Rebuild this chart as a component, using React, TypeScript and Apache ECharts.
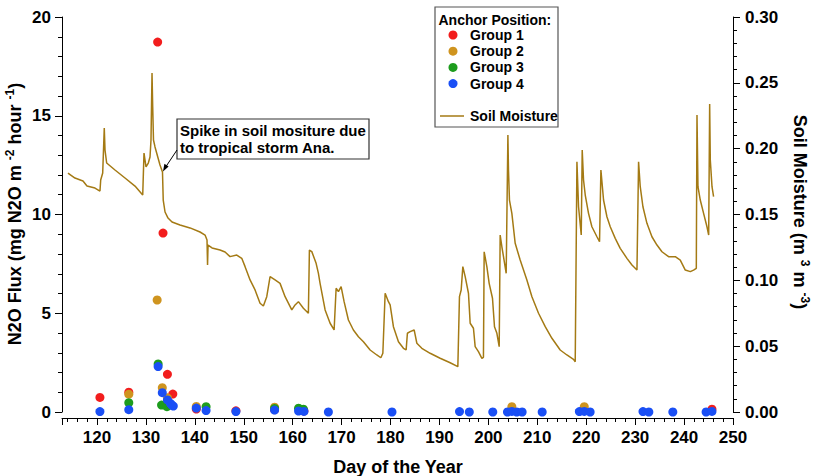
import { useEffect, useRef } from "react";
import * as echarts from "echarts";

// Soil moisture (m3 m-3) by day of year: [day, value]
const soilMoisture: [number, number][] = [
  [114.07, 0.1815], [115.5, 0.1777], [117.14, 0.1754], [117.96, 0.1716], [119.59, 0.1701],
  [120.61, 0.1678], [120.76, 0.1762], [121.17, 0.1815], [121.49, 0.2157], [121.64, 0.199],
  [121.98, 0.1891], [123.68, 0.1838], [125.73, 0.1777], [127.77, 0.1716], [129.35, 0.1648],
  [129.61, 0.1967], [130.02, 0.1861], [130.49, 0.1891], [130.84, 0.1937], [131.04, 0.2066],
  [131.25, 0.2575], [131.39, 0.2316], [131.55, 0.2066], [131.86, 0.2013], [132.88, 0.1876],
  [133.39, 0.1823], [133.54, 0.161], [133.91, 0.1519], [134.52, 0.1473], [135.34, 0.1443],
  [136.97, 0.142], [139.02, 0.1398], [141.06, 0.1367], [142.09, 0.1344], [142.49, 0.1306],
  [142.6, 0.1116], [142.7, 0.1268], [143.52, 0.1246], [145.15, 0.123], [146.18, 0.1215],
  [147.2, 0.118], [148.57, 0.1192], [149.59, 0.1167], [150.27, 0.1104], [151.29, 0.1003],
  [152.31, 0.0927], [153.33, 0.0826], [154.01, 0.0805], [154.7, 0.0876], [155.38, 0.1028],
  [156.4, 0.1003], [157.42, 0.0977], [158.45, 0.0876], [159.82, 0.0775], [160.49, 0.0813],
  [161.17, 0.0838], [162.19, 0.0788], [163.21, 0.075], [163.42, 0.123], [163.91, 0.1218],
  [164.79, 0.1129], [165.26, 0.1053], [165.6, 0.0977], [166.63, 0.0775], [167.65, 0.0674],
  [168.47, 0.0623], [168.88, 0.094], [169.35, 0.0914], [169.9, 0.0952], [170.51, 0.0838],
  [171.39, 0.0699], [172.41, 0.0623], [173.44, 0.0572], [174.46, 0.0534], [175.83, 0.0471],
  [177.2, 0.0433], [178.02, 0.0412], [178.43, 0.0446], [178.9, 0.0902], [179.57, 0.0838],
  [179.92, 0.0813], [180.59, 0.0648], [181.62, 0.0534], [182.64, 0.0484], [183.19, 0.0471],
  [183.45, 0.0598], [184.01, 0.061], [184.83, 0.0623], [185.38, 0.0522], [186.4, 0.0484],
  [188.1, 0.0446], [190.14, 0.0408], [192.19, 0.0374], [193.76, 0.0344], [194.09, 0.0876],
  [194.44, 0.0927], [194.78, 0.1104], [195.26, 0.1028], [195.93, 0.0902], [196.28, 0.0674],
  [196.95, 0.0636], [197.3, 0.0496], [197.97, 0.0458], [198.67, 0.0408], [198.99, 0.0415],
  [199.14, 0.1217], [199.69, 0.1104], [200.16, 0.0977], [200.84, 0.0864], [201.25, 0.0648],
  [201.74, 0.0598], [202.21, 0.0496], [202.41, 0.1344], [202.76, 0.1255], [203.09, 0.118],
  [203.64, 0.1053], [203.99, 0.2104], [204.11, 0.1838], [204.31, 0.161], [204.8, 0.1509],
  [205.48, 0.1281], [206.5, 0.1154], [207.87, 0.1003], [208.9, 0.0876], [210.25, 0.075],
  [211.62, 0.0648], [212.99, 0.056], [214.68, 0.0471], [216.05, 0.0433], [217.4, 0.04],
  [217.75, 0.0382], [218.1, 0.1901], [218.43, 0.1559], [218.98, 0.1344], [219.18, 0.199],
  [219.45, 0.1762], [219.8, 0.1648], [220.47, 0.1509], [221.16, 0.1407], [222.19, 0.1331],
  [222.72, 0.1293], [223.0, 0.1838], [223.54, 0.161], [224.23, 0.1483], [224.91, 0.1407],
  [225.93, 0.1319], [226.95, 0.1243], [228.32, 0.1167], [229.35, 0.1116], [230.37, 0.1078],
  [230.7, 0.1901], [231.04, 0.1711], [231.59, 0.1559], [232.41, 0.1433], [233.43, 0.1331],
  [234.46, 0.1268], [235.48, 0.1217], [236.83, 0.118], [238.2, 0.118], [239.22, 0.1154],
  [240.25, 0.1078], [241.27, 0.1066], [241.94, 0.1078], [242.5, 0.1091], [242.64, 0.2256],
  [242.84, 0.1711], [243.31, 0.161], [243.99, 0.1509], [244.68, 0.1407], [245.03, 0.1344],
  [245.23, 0.2339], [245.36, 0.1914], [245.71, 0.1711], [246.03, 0.1635],
];

// N2O flux (mg N2O m-2 hour-1) by anchor position: [day, flux]
const group1: [number, number][] = [
  [120.6, 0.74], [126.5, 1.0], [132.4, 18.73], [133.5, 9.06], [134.4, 1.91], [135.5, 0.91],
  [140.3, 0.15], [148.4, 0.06], [156.3, 0.12], [162.3, 0.05], [245.7, 0.14],
];
const group2: [number, number][] = [
  [126.5, 0.9], [132.3, 5.67], [133.35, 1.23], [134.4, 0.72], [140.3, 0.28], [156.3, 0.24],
  [204.8, 0.27], [219.6, 0.27],
];
const group3: [number, number][] = [
  [126.5, 0.47], [132.5, 2.43], [133.2, 0.35], [134.3, 0.27], [142.3, 0.27], [156.3, 0.18],
  [161.2, 0.19], [162.2, 0.14],
];
const group4: [number, number][] = [
  [120.6, 0.02], [126.5, 0.12], [132.5, 2.3], [133.35, 0.98], [134.4, 0.61], [135.0, 0.44],
  [135.3, 0.35], [135.6, 0.3], [140.3, 0.2], [142.3, 0.07], [148.4, 0.02], [156.3, 0.1],
  [161.2, 0.05], [162.3, 0.03], [167.3, 0.0], [180.3, 0.0], [194.1, 0.02], [196.1, 0.0],
  [200.9, 0.0], [203.9, 0.0], [204.8, 0.03], [205.8, 0.0], [206.9, 0.0], [211.0, 0.0],
  [218.6, 0.02], [219.6, 0.03], [220.8, 0.0], [231.6, 0.02], [232.8, 0.0], [237.7, 0.0],
  [244.5, 0.0], [245.7, 0.03],
];

const groupNames = ["Group 1", "Group 2", "Group 3", "Group 4"];
const groupColors = ["#f21d1d", "#cf941f", "#1d9c1d", "#1a4ff5"];
const moistureColor = "#a47a14";

const FONT = '"Liberation Sans", Arial, Helvetica, sans-serif';

export default function App() {
  const ref = useRef<HTMLDivElement>(null);

  useEffect(() => {
    const chart = echarts.init(ref.current!, null, { renderer: "svg" });

    const tickLabel = {
      color: "#000",
      fontSize: 17,
      fontWeight: "bold" as const,
      fontFamily: FONT,
    };
    const axisLine = { show: true, onZero: false, lineStyle: { color: "#000", width: 1 } };
    const axisTick = { show: true, inside: false, length: 7, lineStyle: { color: "#000", width: 1 } };
    const minorTick = { show: true, splitNumber: 5, length: 4, lineStyle: { color: "#000", width: 1 } };

    const groupSeries = [group1, group2, group3, group4].map((data, i) => ({
      name: groupNames[i],
      type: "scatter",
      yAxisIndex: 0,
      data,
      symbol: "circle",
      symbolSize: 9,
      itemStyle: { color: groupColors[i], opacity: 1 },
      z: 3 + i,
    }));

    const legendRows = groupNames.flatMap((name, i) => [
      {
        type: "circle",
        shape: { cx: 453, cy: 35 + i * 16.2, r: 4.5 },
        style: { fill: groupColors[i] },
        z: 101,
      },
      {
        type: "text",
        x: 470,
        y: 35 + i * 16.2,
        style: {
          text: name,
          font: `bold 14px ${FONT}`,
          fill: "#000",
          align: "left",
          verticalAlign: "middle",
        },
        z: 101,
      },
    ]);

    chart.setOption({
      animation: false,
      backgroundColor: "#fff",
      grid: { left: 62, right: 91, top: 17, bottom: 64, containLabel: false, outerBoundsMode: "none" },
      xAxis: {
        type: "value",
        min: 112.85,
        max: 250,
        splitNumber: 14,
        offset: 6,
        axisLine,
        axisTick,
        minorTick,
        splitLine: { show: false },
        axisLabel: { ...tickLabel, margin: 11, showMinLabel: false },
      },
      yAxis: [
        {
          type: "value",
          position: "left",
          min: 0,
          max: 20,
          interval: 5,
          axisLine,
          axisTick,
          minorTick,
          splitLine: { show: false },
          axisLabel: { ...tickLabel, margin: 11 },
        },
        {
          type: "value",
          position: "right",
          min: 0,
          max: 0.3,
          interval: 0.05,
          axisLine,
          axisTick,
          minorTick,
          splitLine: { show: false },
          axisLabel: { ...tickLabel, margin: 12, formatter: (v: number) => v.toFixed(2) },
        },
      ],
      series: [
        {
          name: "Soil Moisture",
          type: "line",
          yAxisIndex: 1,
          data: soilMoisture,
          showSymbol: false,
          symbol: "none",
          lineStyle: { color: moistureColor, width: 1.5 },
          z: 2,
        },
        ...groupSeries,
      ],
      graphic: [
        // Axis titles
        {
          type: "text",
          x: 15,
          y: 214,
          rotation: Math.PI / 2,
          style: {
            text: "{n|N2O Flux (mg N2O m }{s|-2}{n| hour }{s|-1}{n|)}",
            align: "center",
            verticalAlign: "middle",
            rich: {
              n: { font: `bold 18px ${FONT}`, fill: "#000", lineHeight: 22 },
              s: { font: `bold 12px ${FONT}`, fill: "#000", lineHeight: 12, verticalAlign: "top" },
            },
          },
          z: 100,
        },
        {
          type: "text",
          x: 800,
          y: 212,
          rotation: -Math.PI / 2,
          style: {
            text: "{n|Soil Moisture (m }{s|3}{n| m }{s|-3}{n|)}",
            align: "center",
            verticalAlign: "middle",
            rich: {
              n: { font: `bold 18px ${FONT}`, fill: "#000", lineHeight: 22 },
              s: { font: `bold 12px ${FONT}`, fill: "#000", lineHeight: 12, verticalAlign: "top" },
            },
          },
          z: 100,
        },
        {
          type: "text",
          x: 398,
          y: 467,
          style: {
            text: "Day of the Year",
            font: `bold 18px ${FONT}`,
            fill: "#000",
            align: "center",
            verticalAlign: "middle",
          },
          z: 100,
        },
        // Legend
        {
          type: "rect",
          shape: { x: 435, y: 7, width: 123, height: 120 },
          style: { fill: "#fff", stroke: "#555", lineWidth: 1.2 },
          z: 100,
        },
        {
          type: "text",
          x: 438.5,
          y: 19.5,
          style: {
            text: "Anchor Position:",
            font: `bold 14px ${FONT}`,
            fill: "#000",
            align: "left",
            verticalAlign: "middle",
          },
          z: 101,
        },
        ...legendRows,
        {
          type: "line",
          shape: { x1: 440, y1: 116, x2: 464, y2: 116 },
          style: { stroke: moistureColor, lineWidth: 1.5 },
          z: 101,
        },
        {
          type: "text",
          x: 470,
          y: 116,
          style: {
            text: "Soil Moisture",
            font: `bold 14px ${FONT}`,
            fill: "#000",
            align: "left",
            verticalAlign: "middle",
          },
          z: 101,
        },
        // Storm annotation
        {
          type: "rect",
          shape: { x: 177, y: 119, width: 192, height: 40 },
          style: { fill: "#fff", stroke: "#333", lineWidth: 1.2 },
          z: 100,
        },
        {
          type: "text",
          x: 180,
          y: 139,
          style: {
            text: "Spike in soil mositure due\nto tropical storm Ana.",
            font: `bold 15px ${FONT}`,
            lineHeight: 16.7,
            fill: "#000",
            align: "left",
            verticalAlign: "middle",
          },
          z: 101,
        },
        {
          type: "line",
          shape: { x1: 177, y1: 150, x2: 165, y2: 168 },
          style: { stroke: "#000", lineWidth: 1 },
          z: 101,
        },
        {
          type: "polygon",
          shape: { points: [[163, 171.5], [168.6, 166.4], [164.4, 163.8]] },
          style: { fill: "#000" },
          z: 101,
        },
      ],
    });

    return () => chart.dispose();
  }, []);

  return (
    <div
      ref={ref}
      style={{ position: "absolute", left: 0, top: 0, width: 824, height: 476 }}
    />
  );
}
